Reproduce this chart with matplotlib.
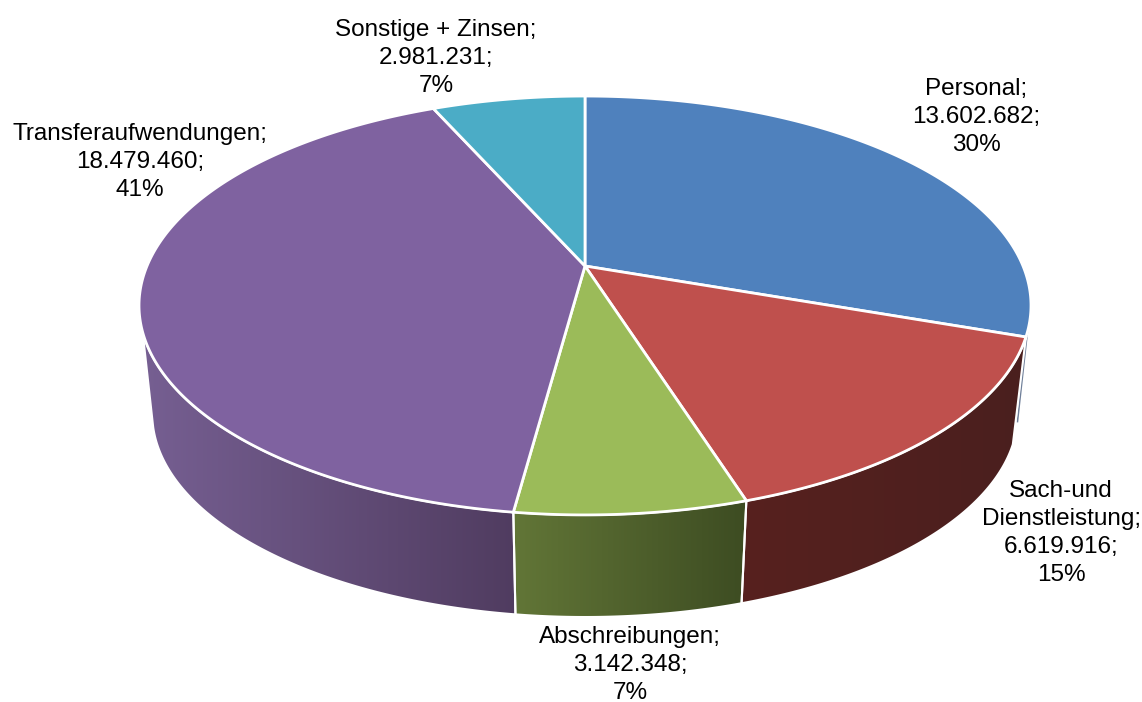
import matplotlib
matplotlib.use('Agg')
import matplotlib.pyplot as plt
import numpy as np
from matplotlib.colors import LinearSegmentedColormap
from matplotlib.patches import Polygon

plt.rcParams['font.family'] = ['Liberation Sans', 'DejaVu Sans']

# data, clockwise from 12 o'clock
names = ['Personal', 'Sach-und\nDienstleistung', 'Abschreibungen', 'Transferaufwendungen', 'Sonstige + Zinsen']
values = [13602682, 6619916, 3142348, 18479460, 2981231]
top_colors = ['#4f81bd', '#bf504d', '#9bbb59', '#7f62a0', '#4bacc6']
side_colors = [('#6f7f99', '#6f7f99'), ('#57211f', '#4a1f1e'), ('#627637', '#3d4c22'),
               ('#765f92', '#503c60'), ('#4bacc6', '#4bacc6')]
label_pos = [(976, 117), (1061, 533), (630, 665), (140, 162), (436, 58)]

# perspective of the two discs, in pixels of the picture
cx = 585
persp = 0.1885
top_disc = (438, 202, 266)
bottom_disc = (425, 196, 375.5)
top_from, top_to = 108.0, 252.0
bottom_from, bottom_to = 104.5, 255.5


def project(theta, disc):
    a, b, cy = disc
    t = np.radians(theta)
    u, v = np.sin(t), np.cos(t)
    w = 1 + persp * v
    return np.column_stack([cx + a * u / w, cy - b * v / w])


def arc(t0, t1, disc):
    n = max(int(abs(t1 - t0) * 2), 2)
    return project(np.linspace(t0, t1, n), disc)


total = sum(values)
edges = np.concatenate([[0], np.cumsum(values) / total * 360])

fig = plt.figure(figsize=(11.42, 7.02), dpi=100)
ax = fig.add_axes([0, 0, 1, 1])

# sliver of the first slice seen behind the second one
sliver = np.vstack([project(top_from, top_disc), project(103.0, bottom_disc)])
ax.plot(sliver[:, 0], sliver[:, 1], color=side_colors[0][0], lw=1.2, zorder=1)

# outer walls with horizontal gradient
for i in [3, 1, 2]:
    pts = np.vstack([
        arc(max(edges[i], top_from), min(edges[i + 1], top_to), top_disc),
        arc(min(edges[i + 1], bottom_to), max(edges[i], bottom_from), bottom_disc),
    ])
    colors = side_colors[i]
    xmin, xmax = pts[:, 0].min(), pts[:, 0].max()
    ymin, ymax = pts[:, 1].min(), pts[:, 1].max()
    grad = np.linspace(0, 1, 256).reshape(1, -1)
    cmap = LinearSegmentedColormap.from_list('side', colors)
    img = ax.imshow(grad, cmap=cmap, extent=(xmin, xmax, ymax, ymin), aspect='auto', zorder=2)
    clip = Polygon(pts, closed=True, transform=ax.transData, fc='none', ec='none')
    ax.add_patch(clip)
    img.set_clip_path(clip)
    ax.add_patch(Polygon(pts, closed=True, fc='none', ec='white', lw=1.5, zorder=3))

# top face
for i in range(len(values)):
    pts = np.vstack([[[cx, top_disc[2]]], arc(edges[i], edges[i + 1], top_disc)])
    ax.add_patch(Polygon(pts, closed=True, fc=top_colors[i], ec='white', lw=2.0, zorder=4))

# labels
for name, val, pos in zip(names, values, label_pos):
    txt = f"{name};\n{val:,}".replace(',', '.') + f";\n{round(val / total * 100)}%"
    ax.text(pos[0], pos[1], txt, ha='center', va='center', fontsize=17.5,
            linespacing=1.35, color='black', zorder=5)

ax.set_xlim(0, 1142)
ax.set_ylim(702, 0)
ax.axis('off')
fig.savefig('out.png', dpi=100, facecolor='white')
